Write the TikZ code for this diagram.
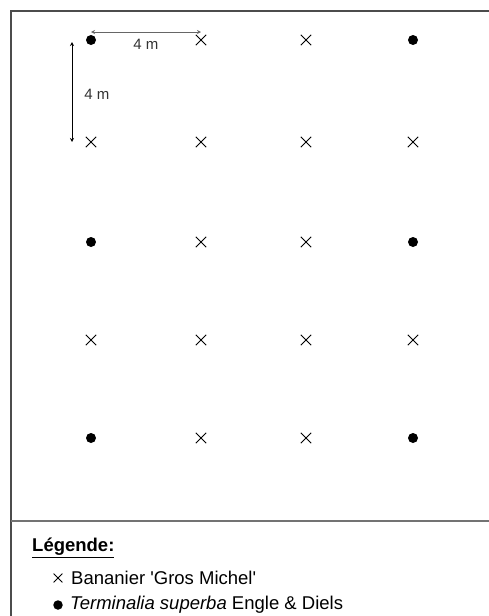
\documentclass[tikz,border=0pt]{standalone}
\usepackage{fontspec}
\setmainfont{Liberation Sans}
\usetikzlibrary{shapes.misc,arrows.meta}
\tikzset{
  banana/.style={cross out, draw, line width=0.9pt, minimum size=9.5pt, inner sep=0pt},
  tree/.style={circle, fill, minimum size=10pt, inner sep=0pt},
  dimline/.style={{Stealth[length=4pt,width=4pt,open]}-{Stealth[length=4pt,width=4pt,open]}, line width=0.8pt, black!60},
  dimtext/.style={font=\fontsize{15}{17}\selectfont, black!80, inner sep=1pt},
  legtext/.style={anchor=west, font=\fontsize{18.5}{20}\selectfont, inner sep=0pt}
}
\begin{document}
\begin{tikzpicture}[x=1pt,y=-1pt]
\useasboundingbox (0,0) rectangle (489,616);
% Frame
\draw[line width=1.4pt, black!70] (489,11) -- (11,11) -- (11,616);
\draw[line width=1.4pt, black!55] (11,521) -- (489,521);

% Plantation grid
\foreach \x [count=\i] in {91,201,306,413} {
  \foreach \y [count=\j] in {40,142,242,340,438} {
    \pgfmathtruncatemacro{\isodd}{mod(\j,2)}
    \ifnum\isodd=1
      \ifnum\i=1 \node[tree] (p\i\j) at (\x,\y) {};
      \else\ifnum\i=4 \node[tree] (p\i\j) at (\x,\y) {};
      \else \node[banana] (p\i\j) at (\x,\y) {};
      \fi\fi
    \else
      \node[banana] (p\i\j) at (\x,\y) {};
    \fi
  }
}

% Spacing
\coordinate (hA) at (p11.center |- 0,32);
\coordinate (hB) at (p21.center |- 0,32);
\draw[dimline] (hA) -- (hB);
\node[dimtext] (hlab) at (146,44) {4 m};
\coordinate (vA) at (72,42);
\coordinate (vB) at (72,142);
\draw[dimline, black] (vA) -- (vB);
\node[dimtext] (vlab) at (97,94) {4 m};

% Legend
\node[legtext, font=\fontsize{18.5}{20}\selectfont\bfseries] (leg) at (32,548) {\underline{Légende:}};
\node[banana, minimum size=8pt, line width=0.8pt] (lbanana) at (58,578) {};
\node[legtext] (lbananatxt) at (71,578) {Bananier \textquotesingle Gros Michel\textquotesingle};
\node[tree, minimum size=9.5pt] (ltree) at (58,605) {};
\node[legtext] (ltreetxt) at (70,605) {\textit{Terminalia superba} Engle \& Diels};
\end{tikzpicture}
\end{document}
